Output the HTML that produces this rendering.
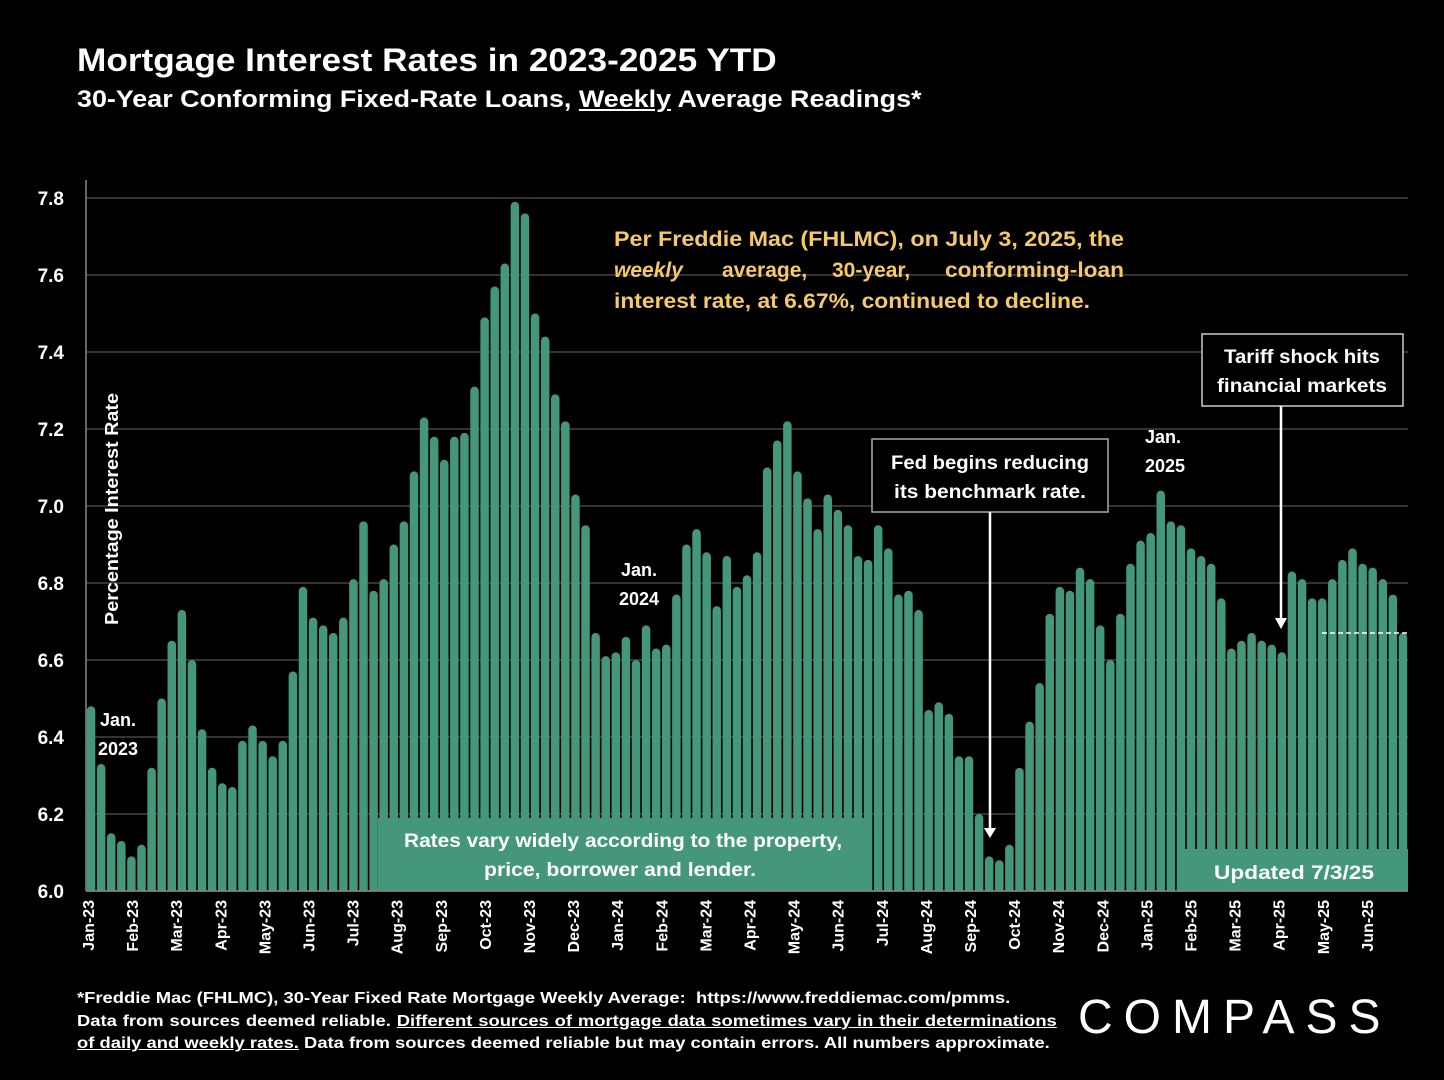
<!DOCTYPE html>
<html><head><meta charset="utf-8">
<style>
body{margin:0;background:#000;width:1444px;height:1080px;overflow:hidden;font-family:"Liberation Sans",sans-serif;color:#fff}
.t{position:absolute;font-weight:bold;transform-origin:left top;white-space:nowrap}
.fl{width:852px;white-space:nowrap}
.j{text-align:justify;text-align-last:justify;white-space:normal}
</style></head>
<body>
<div class="t" style="left:77px;top:42px;font-size:32px;transform:scaleX(1.1)">Mortgage Interest Rates in 2023-2025 YTD</div>
<div class="t" style="left:77px;top:86px;font-size:24px;transform:scaleX(1.12)">30-Year Conforming Fixed-Rate Loans, <u>Weekly</u> Average Readings*</div>
<svg id="chart" width="1444" height="1080" style="position:absolute;left:0;top:0"></svg>
<div style="position:absolute;left:77px;top:988px;font-size:16px;line-height:22.5px;font-weight:bold;transform:scaleX(1.15);transform-origin:left top">
<div class="fl">*Freddie Mac (FHLMC), 30-Year Fixed Rate Mortgage Weekly Average: &nbsp;https://www.freddiemac.com/pmms.</div>
<div class="fl j">Data from sources deemed reliable. <u>Different sources of mortgage data sometimes vary in their determinations</u></div>
<div class="fl"><u>of daily and weekly rates.</u> Data from sources deemed reliable but may contain errors. All numbers approximate.</div>
</div>
<div style="position:absolute;left:1078px;top:990px;font-size:48px;letter-spacing:11px;font-weight:normal">COMPASS</div>
<script>
const values=[6.48,6.33,6.15,6.13,6.09,6.12,6.32,6.50,6.65,6.73,
6.60,6.42,6.32,6.28,6.27,6.39,6.43,6.39,6.35,6.39,
6.57,6.79,6.71,6.69,6.67,6.71,6.81,6.96,6.78,6.81,
6.90,6.96,7.09,7.23,7.18,7.12,7.18,7.19,7.31,7.49,
7.57,7.63,7.79,7.76,7.50,7.44,7.29,7.22,7.03,6.95,
6.67,6.61,6.62,6.66,6.60,6.69,6.63,6.64,6.77,6.90,
6.94,6.88,6.74,6.87,6.79,6.82,6.88,7.10,7.17,7.22,
7.09,7.02,6.94,7.03,6.99,6.95,6.87,6.86,6.95,6.89,
6.77,6.78,6.73,6.47,6.49,6.46,6.35,6.35,6.20,6.09,
6.08,6.12,6.32,6.44,6.54,6.72,6.79,6.78,6.84,6.81,
6.69,6.60,6.72,6.85,6.91,6.93,7.04,6.96,6.95,6.89,
6.87,6.85,6.76,6.63,6.65,6.67,6.65,6.64,6.62,6.83,
6.81,6.76,6.76,6.81,6.86,6.89,6.85,6.84,6.81,6.77,6.67];
const yTicks=[6.0,6.2,6.4,6.6,6.8,7.0,7.2,7.4,7.6,7.8];
const months=["Jan-23","Feb-23","Mar-23","Apr-23","May-23","Jun-23","Jul-23","Aug-23","Sep-23","Oct-23","Nov-23","Dec-23","Jan-24","Feb-24","Mar-24","Apr-24","May-24","Jun-24","Jul-24","Aug-24","Sep-24","Oct-24","Nov-24","Dec-24","Jan-25","Feb-25","Mar-25","Apr-25","May-25","Jun-25"];
const latest=6.67;
const X0=86,X1=1408,Y0=891,YMIN=6.0,YMAX=7.8,YTOP=198;
const bw=(X1-X0)/values.length;
const y=v=>Y0-(v-YMIN)/(YMAX-YMIN)*(Y0-YTOP);
const x=i=>X0+i*bw;
const svg=document.getElementById('chart');
const NS='http://www.w3.org/2000/svg';
function mk(t,a){const e=document.createElementNS(NS,t);for(const k in a)e.setAttribute(k,a[k]);svg.appendChild(e);return e;}
yTicks.forEach(v=>{
 const g=mk('line',{x1:X0,x2:X1,y1:y(v),y2:y(v),stroke:'#444','stroke-width':1.5});
 
 
 const t=mk('text',{x:64,y:y(v)+7,'text-anchor':'end','font-size':19,'font-weight':'bold',fill:'#fff','font-family':'Liberation Sans'});
 t.textContent=v.toFixed(1);
 
 
});
const ax=mk('line',{x1:X0,x2:X0,y1:180,y2:Y0,stroke:'#888','stroke-width':1.5});


values.forEach((v,i)=>{
 const top=y(v),w=bw-1.6;
 const p=mk('path',{d:`M${x(i)+0.8},${Y0} V${top+w/2} A${w/2},${w/2} 0 0 1 ${x(i)+0.8+w},${top+w/2} V${Y0} Z`,fill:'#45977b'});
 
 
});
const b1=mk('rect',{x:378,y:818,width:488,height:73,fill:'#45977b'});


const b2=mk('rect',{x:1178,y:849,width:230,height:42,fill:'#45977b'});


const dl=mk('line',{x1:1322,x2:X1,y1:y(latest),y2:y(latest),stroke:'#fff','stroke-width':1.5,'stroke-dasharray':'5,3'});


const xa=mk('line',{x1:X0,x2:X1,y1:Y0,y2:Y0,stroke:'#888','stroke-width':1.5});


months.forEach((m,i)=>{
 const xx=88+i*44.1+6;
 const t=mk('text',{x:xx,y:900,'text-anchor':'end','font-size':16,'font-weight':'bold',fill:'#fff','font-family':'Liberation Sans',transform:`rotate(-90 ${xx} 900)`});
 t.textContent=m;
 
 
});
function txt(s,xx,yy,sz,name,col,anchor,len){const t=mk('text',{x:xx,y:yy,'font-size':sz,'font-weight':'bold',fill:col||'#fff','text-anchor':anchor||'middle','font-family':'Liberation Sans'});
if(len){t.setAttribute('textLength',len);t.setAttribute('lengthAdjust','spacingAndGlyphs');}
t.textContent=s;

return t;}
const yl=txt('Percentage Interest  Rate',118,509,18,'y-axis-title','#fff','middle',232);
yl.setAttribute('transform','rotate(-90 118 509)');
txt('Jan.',118,726,18,'jan-2023-label');txt('2023',118,755,18,'jan-2023-label');
txt('Jan.',639,576,18,'jan-2024-label');txt('2024',639,605,18,'jan-2024-label');
txt('Jan.',1163,443,18,'jan-2025-label');txt('2025',1165,472,18,'jan-2025-label');
txt('Rates vary widely according to the property,',623,847,19,'rates-vary-note','#fff','middle',438);
txt('price, borrower and lender.',620,876,19,'rates-vary-note','#fff','middle',272);
txt('Updated 7/3/25',1294,879,19,'updated-note','#fff','middle',160);
txt('Per Freddie Mac (FHLMC), on July 3, 2025, the',614,246,21,'freddie-note','#f5c96a','start',510);
const w=txt('',614,277,21,'freddie-note','#f5c96a','start');
w.innerHTML='<tspan font-style="italic">weekly</tspan><tspan x="722">average,</tspan><tspan x="832">30-year,</tspan><tspan x="945" textLength="179" lengthAdjust="spacingAndGlyphs">conforming-loan</tspan>';
txt('interest rate, at 6.67%, continued to decline.',614,308,21,'freddie-note','#f5c96a','start',476);
const fb=mk('rect',{x:872,y:439,width:236,height:73,fill:'#000',stroke:'#aaa','stroke-width':1.5});


txt('Fed begins reducing',990,469,19,'fed-annotation','#fff','middle',198);txt('its benchmark rate.',990,498,19,'fed-annotation','#fff','middle',192);
const fa=mk('line',{x1:990,x2:990,y1:512,y2:830,stroke:'#fff','stroke-width':2.5});


const fh=mk('path',{d:'M984,828 L996,828 L990,838 Z',fill:'#fff'});


const tb=mk('rect',{x:1202,y:334,width:201,height:72,fill:'#000',stroke:'#ccc','stroke-width':1.5});


txt('Tariff shock hits',1302,363,19,'tariff-annotation','#fff','middle',156);txt('financial markets',1302,392,19,'tariff-annotation','#fff','middle',170);
const ta=mk('line',{x1:1281,x2:1281,y1:406,y2:620,stroke:'#fff','stroke-width':2.5});


const th=mk('path',{d:'M1275,618 L1287,618 L1281,629 Z',fill:'#fff'});


</script>
</body></html>
